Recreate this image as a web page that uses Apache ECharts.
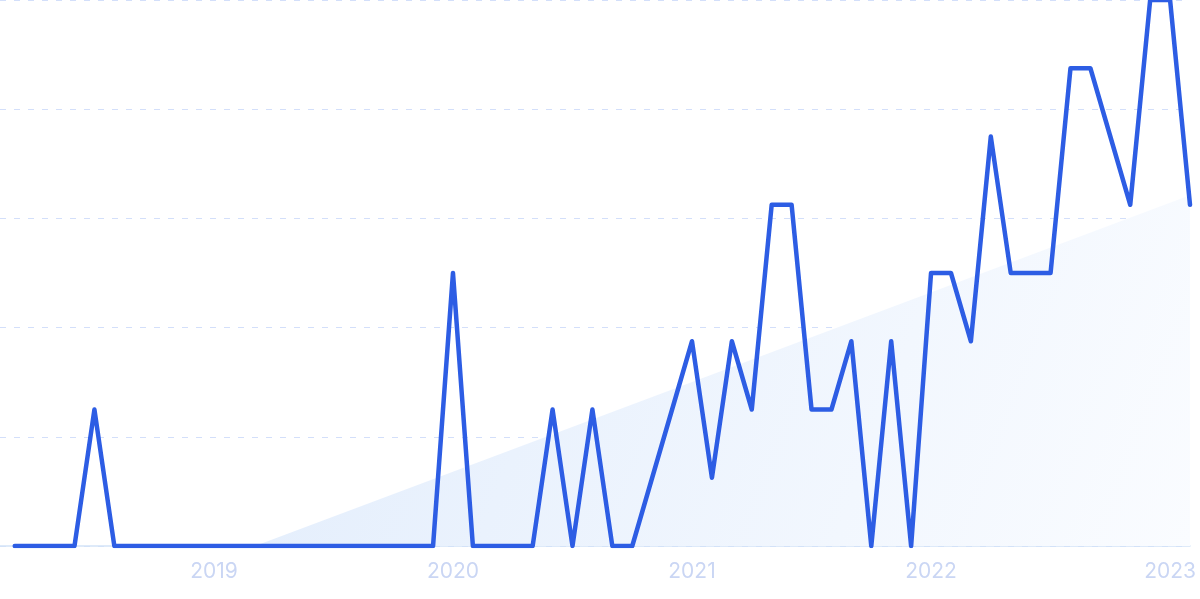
<!DOCTYPE html>
<html>
<head>
<meta charset="utf-8">
<script src="https://cdn.jsdelivr.net/npm/echarts@6/dist/echarts.min.js"></script>
<style>
html,body{margin:0;padding:0;background:#ffffff;}
#chart{width:1200px;height:599px;}
</style>
</head>
<body>
<div id="chart"></div>
<script>
// Months (Mar 2018 .. Feb 2023)
const months = [
  '2018-03','2018-04','2018-05','2018-06','2018-07','2018-08','2018-09','2018-10','2018-11','2018-12',
  '2019-01','2019-02','2019-03','2019-04','2019-05','2019-06','2019-07','2019-08','2019-09','2019-10','2019-11','2019-12',
  '2020-01','2020-02','2020-03','2020-04','2020-05','2020-06','2020-07','2020-08','2020-09','2020-10','2020-11','2020-12',
  '2021-01','2021-02','2021-03','2021-04','2021-05','2021-06','2021-07','2021-08','2021-09','2021-10','2021-11','2021-12',
  '2022-01','2022-02','2022-03','2022-04','2022-05','2022-06','2022-07','2022-08','2022-09','2022-10','2022-11','2022-12',
  '2023-01','2023-02'
];
const values = [
  0,0,0,0,2,0,0,0,0,0,
  0,0,0,0,0,0,0,0,0,0,0,0,
  4,0,0,0,0,2,0,2,0,0,1,2,
  3,1,3,2,5,5,2,2,3,0,3,0,
  4,4,3,6,4,4,4,7,7,6,5,8,
  8,5
];
// Trend area endpoints: [month, month fraction, value]
const trendPoints = [['2019-03', 0.06, 0], ['2023-02', 0, 5.14]];
// Year tick labels
const yearTicks = ['2019-01','2020-01','2021-01','2022-01','2023-01'];
const yearLabels = ['2019','2020','2021','2022','2023'];

function monthPos(m) {
  const [y, mo] = m.split('-').map(Number);
  return (y - 2018) * 12 + (mo - 1);
}

const lineData = months.map((m, i) => [monthPos(m), values[i]]);
const trendData = trendPoints.map(p => [monthPos(p[0]) + p[1], p[2]]);
const tickVals = yearTicks.map(monthPos);

const chart = echarts.init(document.getElementById('chart'));
chart.setOption({
  animation: false,
  backgroundColor: '#ffffff',
  grid: { left: 0, right: 10, top: 0, bottom: 53, containLabel: false },
  xAxis: {
    type: 'value',
    min: 1.26,
    max: 61,
    splitLine: { show: false },
    axisLine: { show: true, lineStyle: { color: '#d3e4f8', width: 1.5 } },
    axisTick: { show: false },
    axisLabel: {
      customValues: tickVals,
      formatter: v => yearLabels[tickVals.indexOf(v)] || '',
      color: '#cad6f4',
      fontSize: 21,
      fontFamily: 'Inter, sans-serif',
      margin: 15
    }
  },
  yAxis: {
    type: 'value',
    min: 0,
    max: 8,
    interval: 1.6,
    axisLine: { show: false },
    axisTick: { show: false },
    axisLabel: { show: false },
    splitLine: { show: true, lineStyle: { color: '#d3dffa', width: 1, type: [6, 8] } }
  },
  series: [
    {
      type: 'line',
      data: trendData,
      symbol: 'none',
      silent: true,
      z: 1,
      lineStyle: { width: 0 },
      areaStyle: {
        color: new echarts.graphic.LinearGradient(0, 0, 1, 1, [
          { offset: 0, color: '#e2edfc' },
          { offset: 1, color: '#fafcff' }
        ]),
        opacity: 1
      }
    },
    {
      type: 'line',
      data: lineData,
      symbol: 'none',
      z: 3,
      lineStyle: { color: '#2d5de4', width: 4.5, join: 'round', cap: 'round' }
    }
  ]
});
</script>
</body>
</html>
